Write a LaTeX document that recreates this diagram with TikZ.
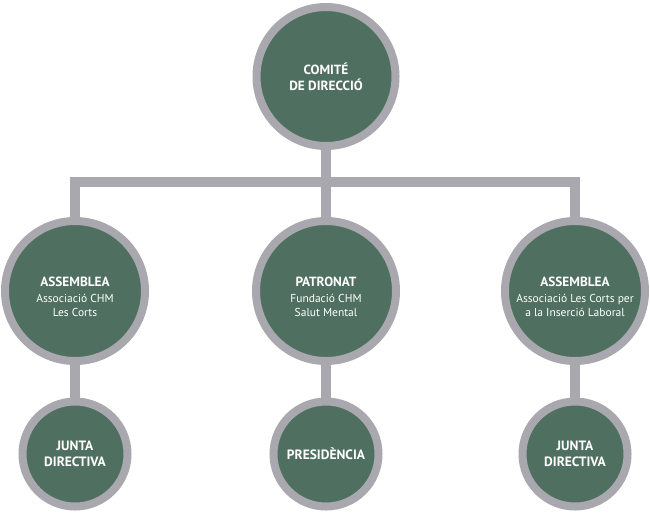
\documentclass[tikz,border=0pt]{standalone}
\usepackage{fontspec}
\setmainfont{PT Sans}
\definecolor{ringgray}{RGB}{168,168,174}
\definecolor{orggreen}{RGB}{79,112,96}
\tikzset{
  orgcircle/.style={circle, draw=ringgray, line width=8pt, fill=orggreen, inner sep=0pt, text=white, align=center},
  bigc/.style={orgcircle, minimum size=140pt, font=\fontsize{11.5}{14}\selectfont},
  smallc/.style={orgcircle, minimum size=105pt, font=\fontsize{13.5}{15.7}\selectfont\bfseries},
  conn/.style={draw=ringgray, line width=10pt, line join=miter},
}
\newcommand{\orgttl}[1]{{\fontsize{13.3}{14}\selectfont\bfseries\rule{0pt}{21pt}#1}}
\begin{document}
\begin{tikzpicture}[x=1pt,y=1pt]
\useasboundingbox (0,0) rectangle (650,-512);
\node[orgcircle, minimum size=139pt, font=\fontsize{13.3}{16}\selectfont\bfseries] (top) at (326,-76.5) {COMITÉ\\DE DIRECCIÓ};
\node[bigc] (l) at (75,-291) {\orgttl{ASSEMBLEA}\\[2.5pt]Associació CHM\\Les Corts};
\node[bigc] (m) at (326,-291) {\orgttl{PATRONAT}\\[2.5pt]Fundació CHM\\Salut Mental};
\node[bigc] (r) at (575,-291) {\orgttl{ASSEMBLEA}\\[2.5pt]Associació Les Corts per\\a la Inserció Laboral};
\node[smallc] (lb) at (75,-454) {JUNTA\\DIRECTIVA};
\node[smallc] (mb) at (326,-454) {PRESIDÈNCIA};
\node[smallc] (rb) at (575,-454) {JUNTA\\DIRECTIVA};
\coordinate (bar) at (326,-182);
\draw[conn] (l.north) |- (bar) -| (r.north);
\draw[conn] (top.south) -- (m.north);
\draw[conn] (l.south) -- (lb.north);
\draw[conn] (m.south) -- (mb.north);
\draw[conn] (r.south) -- (rb.north);
\end{tikzpicture}
\end{document}
